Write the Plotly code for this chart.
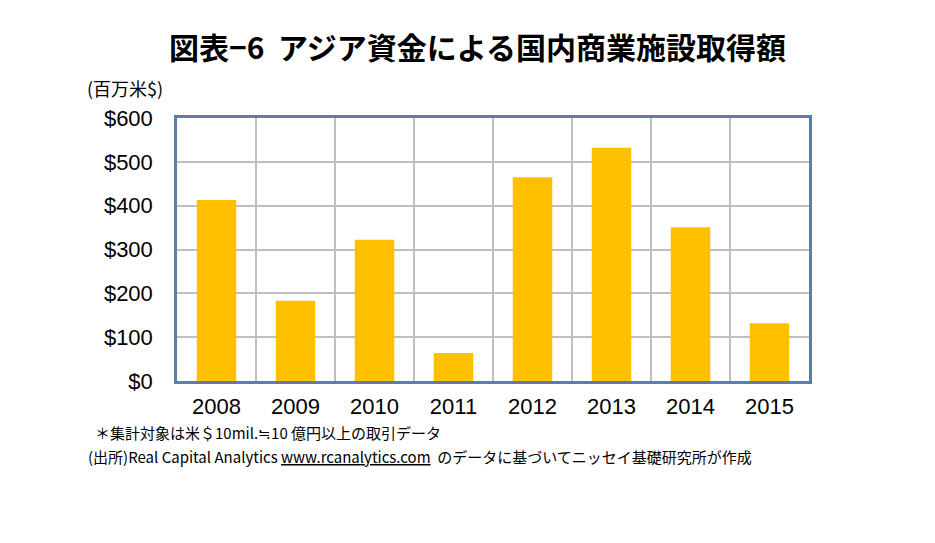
import plotly.graph_objects as go

years = ["2008", "2009", "2010", "2011", "2012", "2013", "2014", "2015"]
values = [413, 183, 322, 64, 465, 532, 351, 132]
y_ticks = [0, 100, 200, 300, 400, 500, 600]
y_tick_labels = ["$" + str(v) for v in y_ticks]

title_text = "図表−6  アジア資金による国内商業施設取得額"
unit_text = "(百万米$)"
note1 = "＊集計対象は米＄10mil.≒10 億円以上の取引データ"
note2 = "(出所)Real Capital Analytics <u>www.rcanalytics.com</u>  のデータに基づいてニッセイ基礎研究所が作成"

fig = go.Figure()
fig.add_trace(go.Bar(x=years, y=values, marker=dict(color="#FFC000", line=dict(width=0)), width=0.5))

fig.update_layout(
    width=919, height=527,
    margin=dict(l=169, r=118, t=110, b=154, autoexpand=False),
    paper_bgcolor="white", plot_bgcolor="white",
    showlegend=False,
    font=dict(family="Liberation Sans, Arial", color="#000000"),
)
fig.update_xaxes(
    type="category", tickson="boundaries", showgrid=True, gridcolor="#BFBFBF", gridwidth=2,
    ticks="", tickfont=dict(size=22, family="Liberation Sans, Arial"),
    showline=True, linecolor="#5B80A8", linewidth=2.5, mirror=True, ticklabelstandoff=4,
)
fig.update_yaxes(
    range=[0, 600], tickvals=y_ticks, ticktext=y_tick_labels, showgrid=True,
    gridcolor="#BFBFBF", gridwidth=2, ticks="", tickfont=dict(size=22, family="Liberation Sans, Arial"),
    showline=True, linecolor="#5B80A8", linewidth=2.5, mirror=True, zeroline=False,
    ticklabelstandoff=17,
)

fig.add_annotation(text="<b>" + title_text + "</b>", xref="paper", yref="paper", x=0.5, xanchor="center",
                   xshift=-16, y=1, yshift=72, yanchor="middle", showarrow=False,
                   font=dict(size=30, family="Noto Sans CJK JP"))
fig.add_annotation(text=unit_text, xref="paper", yref="paper", x=0, xshift=-92, xanchor="left",
                   y=1, yshift=30, yanchor="middle", showarrow=False,
                   font=dict(size=18, family="Noto Sans CJK JP"))
fig.add_annotation(text=note1, xref="paper", yref="paper", x=0, xshift=-84, xanchor="left",
                   y=0, yshift=-51, yanchor="middle", showarrow=False,
                   font=dict(size=15, family="Noto Sans CJK JP"))
fig.add_annotation(text=note2, xref="paper", yref="paper", x=0, xshift=-91, xanchor="left",
                   y=0, yshift=-75, yanchor="middle", showarrow=False,
                   font=dict(size=15, family="Noto Sans CJK JP"))

fig.write_html("out.html")
